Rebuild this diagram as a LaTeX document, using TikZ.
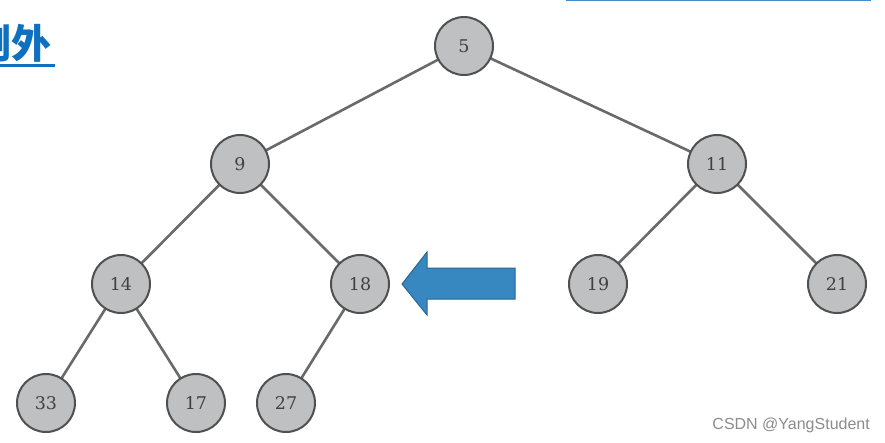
\documentclass[tikz,border=0pt]{standalone}
\usepackage{fontspec}
\setmainfont{DejaVu Serif}
\newfontfamily\cjk{Noto Sans CJK SC}
\newfontfamily\wmfont{Liberation Sans}
\definecolor{nodefill}{HTML}{BEC0C2}
\definecolor{nodeline}{HTML}{505050}
\definecolor{edgecol}{HTML}{6A6A6A}
\definecolor{arrowfill}{HTML}{3787C0}
\definecolor{arrowline}{HTML}{2C6690}
\definecolor{linkblue}{HTML}{1070C0}
\tikzset{
  heapnode/.style={circle, fill=nodefill, draw=nodeline, line width=2pt,
    minimum size=58pt, inner sep=0pt, font=\fontsize{17.5}{17.5}\selectfont, text=black!75},
  edge/.style={draw=edgecol, line width=2.6pt},
  wm/.style={font=\wmfont\fontsize{16}{16}\selectfont, text=black!45}
}
\begin{document}
\begin{tikzpicture}[x=1pt,y=-1pt]
\useasboundingbox (0,0) rectangle (885,442);
\clip (0,0) rectangle (885,442);
\fill[white] (0,0) rectangle (885,442);
% edges
\coordinate (p5) at (464,46);
\coordinate (p9) at (240,164);
\coordinate (p11) at (717,164);
\coordinate (p14) at (121,284);
\coordinate (p18) at (360,284);
\coordinate (p19) at (598,284);
\coordinate (p21) at (837,284);
\coordinate (p33) at (46,403);
\coordinate (p17) at (196,403);
\coordinate (p27) at (286,403);
\draw[edge] (p5) -- (p9);
\draw[edge] (p5) -- (p11);
\draw[edge] (p9) -- (p14);
\draw[edge] (p9) -- (p18);
\draw[edge] (p11) -- (p19);
\draw[edge] (p11) -- (p21);
\draw[edge] (p14) -- (p33);
\draw[edge] (p14) -- (p17);
\draw[edge] (p18) -- (p27);
% nodes
\node[heapnode] (n5) at (p5) {5};
\node[heapnode] (n9) at (p9) {9};
\node[heapnode] (n11) at (p11) {11};
\node[heapnode] (n14) at (p14) {14};
\node[heapnode] (n18) at (p18) {18};
\node[heapnode] (n19) at (p19) {19};
\node[heapnode] (n21) at (p21) {21};
\node[heapnode] (n33) at (p33) {33};
\node[heapnode] (n17) at (p17) {17};
\node[heapnode] (n27) at (p27) {27};
% arrow
\filldraw[fill=arrowfill, draw=arrowline, line width=1pt]
  (402,284) -- (427,252) -- (427,268) -- (515,268) -- (515,299) -- (427,299) -- (427,315) -- cycle;
% top-left text
\node[anchor=base east, inner sep=0pt, text=linkblue, font=\cjk\bfseries\fontsize{40}{40}\selectfont] (txt) at (52,58) {例外};
\draw[linkblue, line width=3pt] (0,65) -- (55,65);
% top-right link underline
\draw[linkblue!80, line width=2pt] (566,0) -- (871,0);
% watermark
\node[wm, anchor=base east, inner sep=0pt] (wmk) at (870,429) {CSDN @YangStudent};
\end{tikzpicture}
\end{document}
